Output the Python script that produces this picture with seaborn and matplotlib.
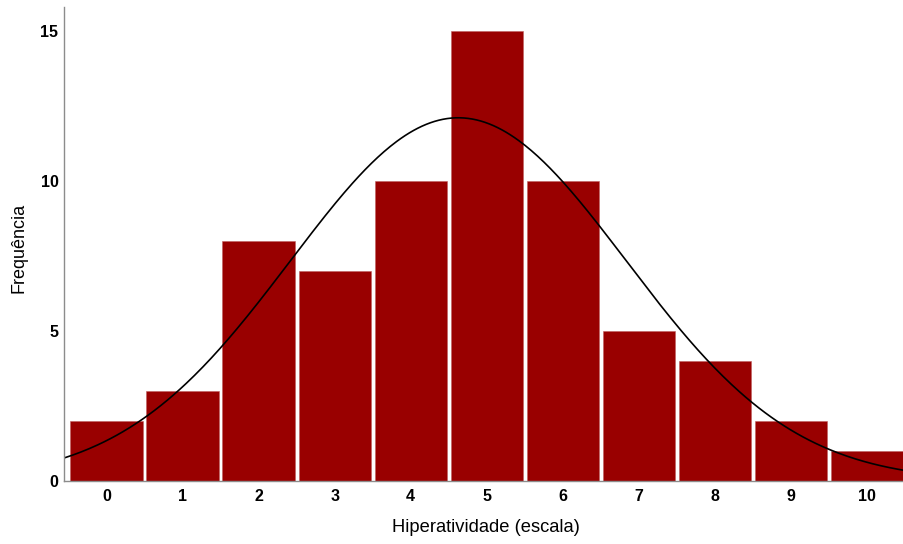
import numpy as np
import pandas as pd
import matplotlib
matplotlib.use("Agg")
import matplotlib.pyplot as plt
import seaborn as sns

# Hyperactivity scale scores and their frequencies
scores = [0, 1, 2, 3, 4, 5, 6, 7, 8, 9, 10]
counts = [2, 3, 8, 7, 10, 15, 10, 5, 4, 2, 1]
y_ticks = [0, 5, 10, 15]

df = pd.DataFrame({"score": scores, "count": counts})

sns.set_theme(style="white")
plt.rcParams["font.family"] = ["Liberation Sans", "DejaVu Sans"]

fig = plt.figure(figsize=(9.04, 5.44), dpi=100)
ax = fig.add_axes([64 / 904, 63 / 544, 840 / 904, 474 / 544])

sns.histplot(data=df, x="score", weights="count", discrete=True, shrink=0.95,
             color="#990000", alpha=1.0, edgecolor="#c06060", linewidth=0.4,
             ax=ax)

# Normal curve using the sample mean and standard deviation of the data
x_lo, x_hi = -0.56, 10.49
vals = np.repeat(np.array(scores, dtype=float), counts)
n = vals.size
mu = vals.mean()
sd = vals.std(ddof=1)
xs = np.linspace(x_lo, x_hi, 400)
pdf = n * np.exp(-0.5 * ((xs - mu) / sd) ** 2) / (sd * np.sqrt(2 * np.pi))
sns.lineplot(x=xs, y=pdf, color="black", linewidth=1.2, ax=ax)

ax.set_xlim(x_lo, x_hi)
ax.set_ylim(0, 15.8)
ax.set_xticks(scores)
ax.set_xticklabels([str(s) for s in scores], fontsize=11.5, fontweight="bold")
ax.set_yticks(y_ticks)
ax.set_yticklabels([str(t) for t in y_ticks], fontsize=11.5, fontweight="bold")
ax.tick_params(axis="x", length=0, pad=6, colors="black")
ax.tick_params(axis="y", length=0, pad=4, colors="black")

ax.set_xlabel("Hiperatividade (escala)", fontsize=13.2, color="black")
ax.set_ylabel("Frequência", fontsize=13, color="black")
ax.xaxis.set_label_coords((486 - 64) / 840, -(527 - 481) / 474)
ax.yaxis.set_label_coords((19 - 64) / 840, (481 - 248) / 474)
ax.xaxis.label.set_verticalalignment("center")
ax.yaxis.label.set_verticalalignment("center")

for side in ["top", "right"]:
    ax.spines[side].set_visible(False)
for side in ["left", "bottom"]:
    ax.spines[side].set_color("#8c8c8c")
    ax.spines[side].set_linewidth(1.0)

fig.savefig("out.png", dpi=100)
